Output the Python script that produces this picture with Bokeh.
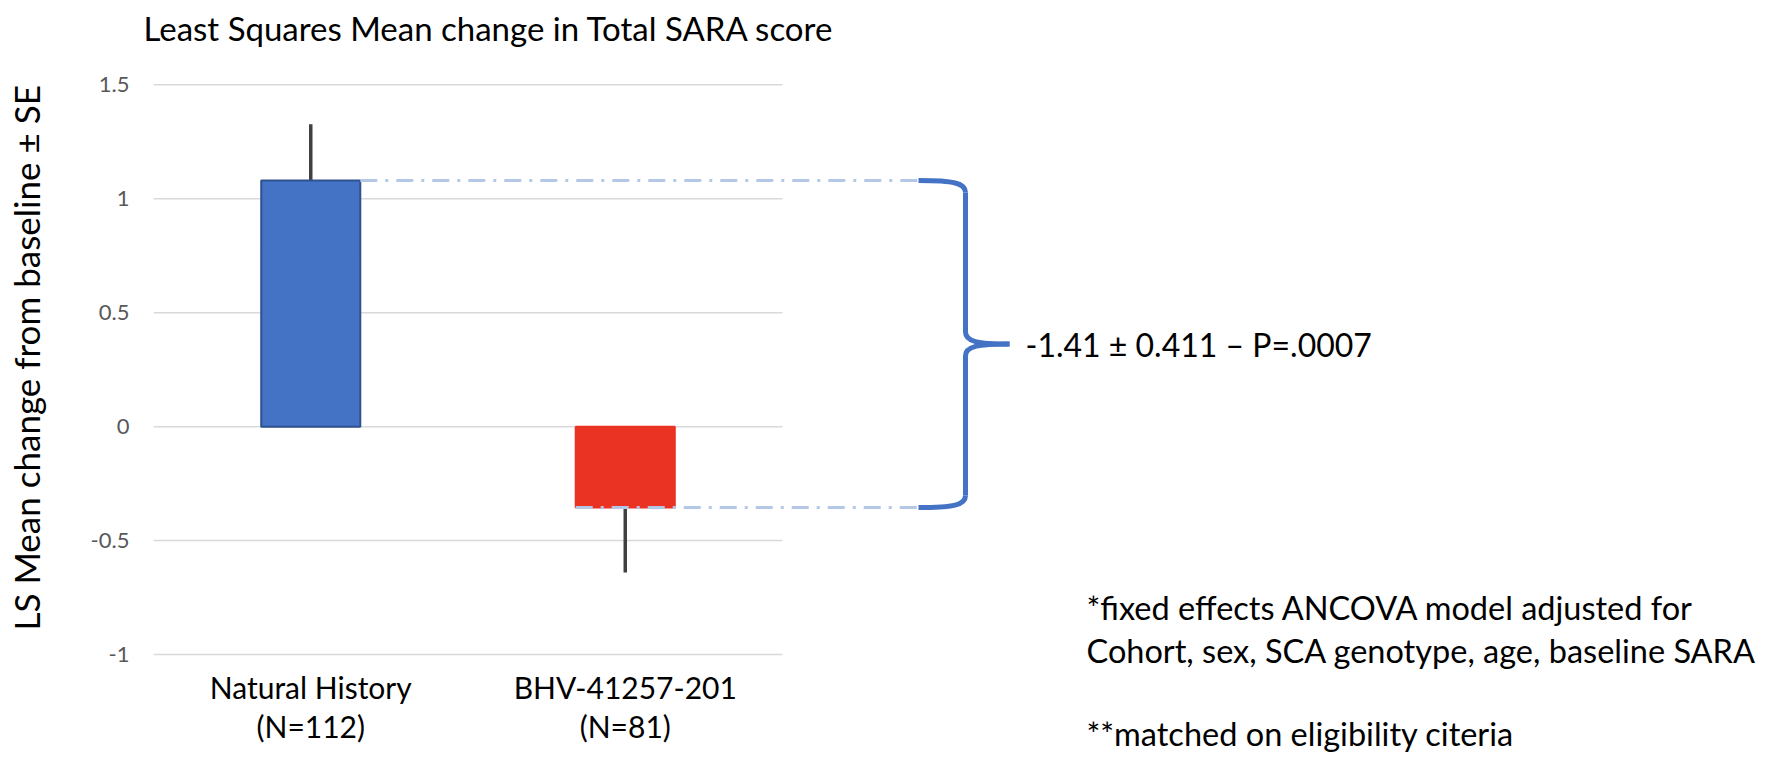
from bokeh.plotting import figure
from bokeh.models import Range1d, FixedTicker, Title
from bokeh.core.properties import value
from bokeh.embed import file_html
from bokeh.resources import INLINE

# ---------------- data ----------------
groups = ["Natural History", "BHV-41257-201"]
group_n = ["(N=112)", "(N=81)"]
ls_mean = [1.08, -0.355]
se = [0.247, 0.285]
bar_fill = ["#4472C4", "#EA3323"]
bar_edge = ["#2F528F", "#EA3323"]
y_ticks = [-1, -0.5, 0, 0.5, 1, 1.5]
y_tick_labels = ["-1", "-0.5", "0", "0.5", "1", "1.5"]
title_text = "Least Squares Mean change in Total SARA score"
y_title = "LS Mean change from baseline \u00b1 SE"
effect_text = "-1.41 \u00b1 0.411 \u2013 P=.0007"
footnotes = ["*fixed effects ANCOVA model adjusted for",
             "Cohort, sex, SCA genotype, age, baseline SARA",
             "**matched on eligibility citeria"]

# ---------------- layout ----------------
W, H = 1760, 754
LEFT, TOP = 153, 50
PX_X = 314.5          # px per category
PX_Y = 228.84         # px per unit of y
ZERO_Y = 424.76       # canvas y of value 0
FONT = "Lato"


def vx(px):
    return (px - LEFT) / PX_X


def vy(py):
    return (ZERO_Y - py) / PX_Y


p = figure(width=W, height=H, output_backend="svg", toolbar_location=None,
           x_range=Range1d(0, vx(W)), y_range=Range1d(vy(H), vy(TOP)),
           min_border_left=LEFT, min_border_right=0, min_border_top=TOP,
           min_border_bottom=0, title=title_text)
p.outline_line_color = None
p.background_fill_color = "white"
p.border_fill_color = "white"
p.xaxis.visible = False
p.xgrid.visible = False
p.ygrid.visible = False

p.title.text_font = FONT
p.title.text_font_size = "33px"
p.title.text_font_style = "normal"
p.title.text_color = "black"
p.title.offset = -10
p.title.standoff = 11

ya = p.yaxis[0]
ya.ticker = FixedTicker(ticks=y_ticks)
ya.major_label_overrides = {t: l for t, l in zip(y_ticks, y_tick_labels)}
ya.axis_line_color = None
ya.major_tick_line_color = None
ya.minor_tick_line_color = None
ya.major_tick_out = 0
ya.major_label_standoff = 24
ya.major_label_text_font = FONT
ya.major_label_text_font_size = "22px"
ya.major_label_text_color = "#595959"

# y-axis title as a left-side title (a blank spacer pushes it outward)
p.add_layout(Title(text=" ", text_font_size="1px", standoff=36), "left")
p.add_layout(Title(text=y_title, align="left", offset=H - 630,
                   text_font=FONT, text_font_size="35px",
                   text_font_style="normal", text_color="black",
                   standoff=4), "left")

n = len(groups)
xc = [i + 0.5 for i in range(n)]
bw = 0.315

# gridlines spanning the category area only
p.segment(x0=[0] * len(y_ticks), x1=[n] * len(y_ticks), y0=y_ticks, y1=y_ticks,
          line_color="#D9D9D9", line_width=1.5)

# error bars (one-sided, outward)
err_end = [m + s if m >= 0 else m - s for m, s in zip(ls_mean, se)]
p.segment(x0=xc, x1=xc, y0=ls_mean, y1=err_end, line_color="#404040", line_width=3.5)

# bars
p.vbar(x=xc, top=ls_mean, bottom=0, width=bw, fill_color=bar_fill,
       line_color=bar_edge, line_width=2)

# brace geometry (in data units)
bx0, bx1, bx2 = vx(918), vx(965), vx(1009)
top_v, bot_v = ls_mean[0], ls_mean[1]
mid_v = (top_v + bot_v) / 2
r = 12 / PX_Y
hx = 12 / PX_X

# dash-dot connectors
conn_x0 = [xc[0] + bw / 2, xc[1] - bw / 2]
p.segment(x0=conn_x0, x1=[bx0, bx0], y0=ls_mean, y1=ls_mean,
          line_color="#B4C7E7", line_width=3, line_dash="17 8 3 8")

brace_col = "#4472C4"
brace_w = 5
p.segment(x0=[bx1, bx1], x1=[bx1, bx1], y0=[top_v - r, mid_v - r],
          y1=[mid_v + r, bot_v + r], line_color=brace_col, line_width=brace_w)
p.bezier(x0=[bx0, bx1, bx2, bx1],
         y0=[top_v, mid_v + r, mid_v, bot_v + r],
         x1=[bx1, bx2, bx1, bx0],
         y1=[top_v - r, mid_v, mid_v - r, bot_v],
         cx0=[bx1 - hx, bx1, bx1 + hx, bx1],
         cy0=[top_v, mid_v + 0.2 * r, mid_v, bot_v + 0.2 * r],
         cx1=[bx1, bx1 + hx, bx1, bx1 - hx],
         cy1=[top_v - 0.2 * r, mid_v, mid_v - 0.2 * r, bot_v],
         line_color=brace_col, line_width=brace_w)

# effect annotation
p.text(x=[vx(1025)], y=[mid_v], text=[effect_text],
       text_font=value(FONT), text_font_size="32px", text_color="black",
       text_baseline="middle", text_align="left")

# category labels
p.text(x=xc, y=[vy(686)] * n, text=groups, text_font=value(FONT),
       text_font_size="30px", text_color="black", text_align="center",
       text_baseline="middle")
p.text(x=xc, y=[vy(725)] * n, text=group_n, text_font=value(FONT),
       text_font_size="30px", text_color="black", text_align="center",
       text_baseline="middle")

# footnotes
fn_y = [vy(606), vy(650), vy(733)]
p.text(x=[vx(1086)] * len(footnotes), y=fn_y, text=footnotes,
       text_font=value(FONT), text_font_size="32.5px", text_color="black",
       text_align="left", text_baseline="middle")

open("out.html", "w").write(file_html(p, INLINE))
